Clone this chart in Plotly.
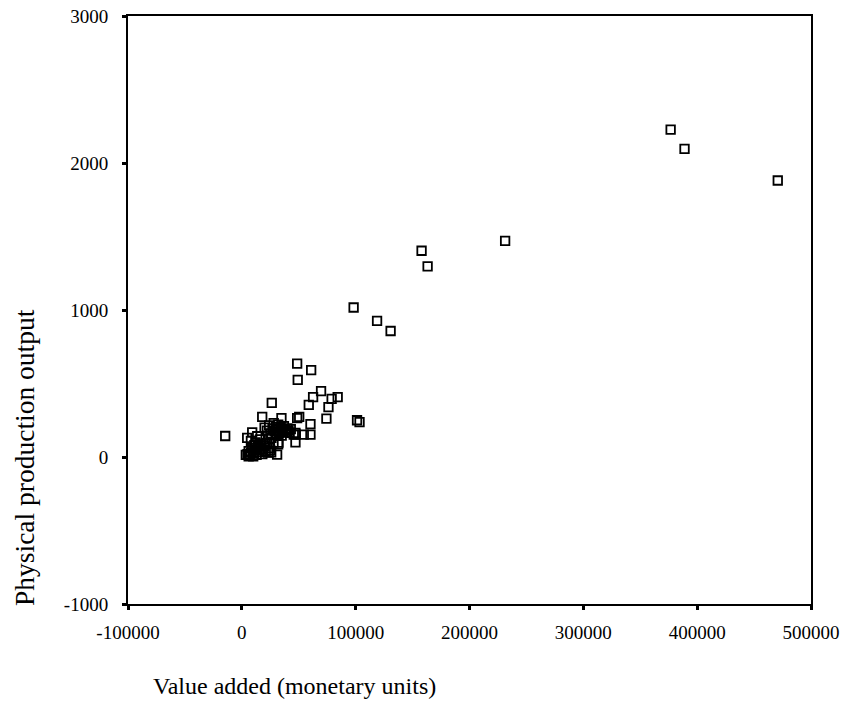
import plotly.graph_objects as go

# Value added (monetary units)
value_added = [
    376700, 388900, 470800, 231300, 157900, 163200, 98200, 118800, 130700,
    48600, 60900, 49100, 69600, 62600, 84200, 78900, 58800, 76100, 26300,
    17900, 34800, 48600, 50400, 74300, 101200, 103400, 60300, 60300, 54400,
    47400, 47100, 31900, 25800, -14600, 9100, 4700, 13500, 27800, 32200,
    45600, 31000, 47100,
    20000, 22000, 24000, 25000, 27000, 28000, 29000, 30000, 31000, 32000,
    33000, 34000, 35000, 36000, 37000, 38000, 39000, 40000, 41000, 42000,
    43000, 23000, 26000, 30000, 35000,
    5000, 6000, 7000, 8000, 9000, 10000, 11000, 12000, 13000, 14000, 15000,
    16000, 17000, 18000, 19000, 20000, 21000, 22000, 23000, 24000, 8000,
    12000, 16000, 6000, 10000, 3500, 25000,
]
# Physical production output
physical_output = [
    2227, 2096, 1881, 1470, 1403, 1297, 1017, 926, 857,
    635, 591, 525, 448, 407, 407, 396, 355, 339, 368,
    273, 264, 264, 273, 261, 250, 237, 223, 152, 152,
    152, 100, 86, 31, 143, 168, 130, 141, 98, 98,
    152, 16, 164,
    200, 180, 215, 160, 195, 230, 175, 205, 185, 220,
    165, 200, 190, 175, 210, 185, 170, 195, 180, 165,
    190, 145, 130, 150, 145,
    20, 40, 10, 30, 60, 25, 80, 45, 15, 70, 35,
    55, 90, 20, 50, 75, 40, 95, 30, 60, 110,
    100, 120, 5, 5, 15, 45,
]

x_tickvals = [-100000, 0, 100000, 200000, 300000, 400000, 500000]
y_tickvals = [-1000, 0, 1000, 2000, 3000]

FONT = "Liberation Serif"

fig = go.Figure()
fig.add_trace(go.Scatter(
    x=value_added, y=physical_output, mode="markers",
    marker=dict(symbol="square-open", size=8.5, color="black",
                line=dict(color="black", width=1.8)),
    showlegend=False, hoverinfo="x+y", cliponaxis=False,
))

axis_common = dict(
    showgrid=False, zeroline=False, showline=True, linecolor="black",
    linewidth=2, mirror=True, ticks="outside", ticklen=4, tickwidth=3,
    tickcolor="black", automargin=False,
    tickfont=dict(family=FONT, size=19, color="black"),
)

fig.update_xaxes(range=[-100000, 500000], tickvals=x_tickvals,
                 ticktext=[str(v) for v in x_tickvals],
                 ticklabelstandoff=6, **axis_common)
fig.update_yaxes(range=[-1000, 3000], tickvals=y_tickvals,
                 ticktext=[str(v) for v in y_tickvals],
                 ticklabelstandoff=10, **axis_common)

fig.add_annotation(text="Physical production output", xref="paper", yref="paper",
                   x=(24 - 128) / 683, y=(604 - 458) / 588, textangle=-90,
                   showarrow=False, xanchor="center", yanchor="middle",
                   font=dict(family=FONT, size=27.5, color="black"))
fig.add_annotation(text="Value added (monetary units)", xref="paper", yref="paper",
                   x=(151 - 128) / 683, y=(604 - 686) / 588,
                   showarrow=False, xanchor="left", yanchor="middle",
                   font=dict(family=FONT, size=24, color="black"))

fig.update_layout(
    width=842, height=711,
    margin=dict(l=128, r=31, t=16, b=107),
    paper_bgcolor="white", plot_bgcolor="white",
    font=dict(family=FONT, color="black"),
)

fig.write_html("out.html")
